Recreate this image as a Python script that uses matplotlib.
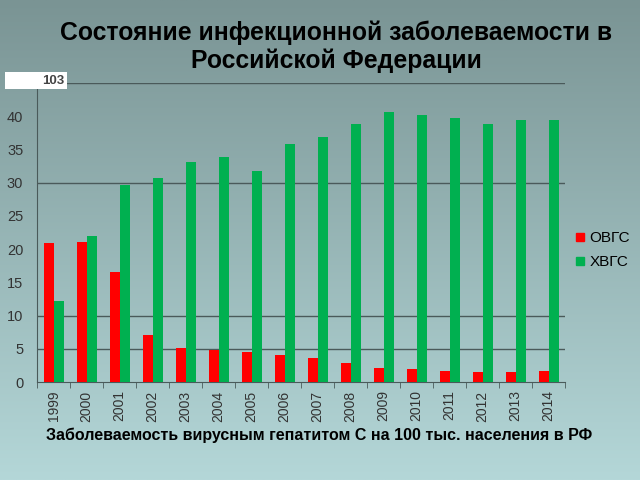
import numpy as np
import matplotlib
matplotlib.use('Agg')
import matplotlib.pyplot as plt
from matplotlib.patches import Rectangle
from matplotlib.lines import Line2D

plt.rcParams['font.family'] = ['Liberation Sans', 'DejaVu Sans']

years = [str(y) for y in range(1999, 2015)]
ovgs = [20.9, 21.1, 16.6, 7.1, 5.2, 4.8, 4.5, 4.0, 3.6, 2.9, 2.1, 2.0, 1.7, 1.5, 1.5, 1.6]
hvgs = [12.2, 22.0, 29.6, 30.7, 33.1, 33.9, 31.8, 35.8, 36.9, 38.9, 40.7, 40.2, 39.7, 38.9, 39.4, 39.4]

red = '#ff0000'
green = '#00b050'

fig = plt.figure(figsize=(6.4, 4.8), dpi=100)

# фон с градиентом
bg = fig.add_axes([0, 0, 1, 1], zorder=-1)
top = np.array([122, 148, 148]) / 255
bot = np.array([180, 215, 216]) / 255
t = np.linspace(0, 1, 256)[:, None]
grad = top * (1 - t) + bot * t
bg.imshow(grad[:, None, :].repeat(2, axis=1), aspect='auto', extent=[0, 1, 0, 1])
bg.axis('off')

ax = fig.add_axes([0.058, 0.204, 0.825, 0.623])
ax.set_facecolor('none')
x = np.arange(len(years))
w = 0.3
ax.bar(x - w / 2, ovgs, w, color=red, label='ОВГС', zorder=3)
ax.bar(x + w / 2, hvgs, w, color=green, label='ХВГС', zorder=3)

ax.set_xlim(-0.5, len(years) - 0.5)
ax.set_ylim(0, 45)
for g in [5, 10, 30, 45]:
    ax.axhline(g, color='#4a5a5a', lw=1, zorder=1)
ax.set_yticks(range(0, 45, 5))
ax.set_xticks(x)
ax.set_xticklabels(years, rotation=90, fontsize=10, color='#333333')
ax.set_xticks(np.arange(-0.5, len(years), 1), minor=True)
ax.tick_params(axis='x', which='major', length=0, pad=6)
ax.tick_params(axis='x', which='minor', length=4, color='#4a5a5a')
ax.tick_params(axis='y', length=0, labelsize=10.5, labelcolor='#333333', pad=10)
for s in ['top', 'right']:
    ax.spines[s].set_visible(False)
ax.spines['left'].set_color('#4a5a5a')
ax.spines['bottom'].set_color('#4a5a5a')

handles = [Line2D([], [], marker='s', ls='', color=red, markersize=6),
           Line2D([], [], marker='s', ls='', color=green, markersize=6)]
fig.legend(handles, ['ОВГС', 'ХВГС'], loc='center left', bbox_to_anchor=(0.873, 0.479),
           frameon=False, fontsize=11, handlelength=1.0, handletextpad=0.1, labelspacing=0.65)

fig.text(0.525, 0.902, 'Состояние инфекционной заболеваемости в\nРоссийской Федерации',
         ha='center', va='center', fontsize=17.8, fontweight='bold', linespacing=1.2)
fig.text(0.498, 0.094, 'Заболеваемость вирусным гепатитом С на 100 тыс. населения в РФ',
         ha='center', va='center', fontsize=11.5, fontweight='bold')

fig.patches.append(Rectangle((0.008, 0.815), 0.097, 0.035, transform=fig.transFigure,
                             facecolor='white', edgecolor='none'))
fig.text(0.1, 0.832, '103', ha='right', va='center', fontsize=9.5, fontweight='bold', color='#444444')

fig.savefig('out.png', dpi=100)
